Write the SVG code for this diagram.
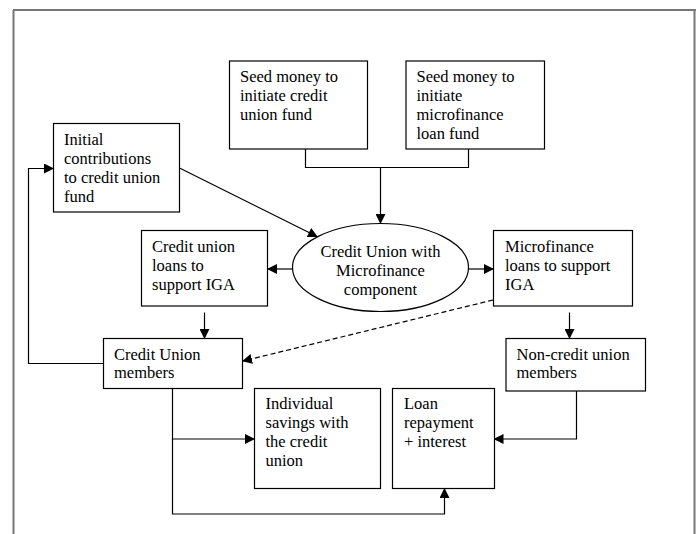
<svg xmlns="http://www.w3.org/2000/svg" width="696" height="534" viewBox="0 0 696 534">
<style>
.box{fill:#fff;stroke:#000;stroke-width:1.2}
.t{font-family:"Liberation Serif","Times New Roman","DejaVu Serif",serif;font-size:16.5px;fill:#000}
.c{fill:none;stroke:#000;stroke-width:1.2}
.d{fill:none;stroke:#000;stroke-width:1.2;stroke-dasharray:5,3}
.frame{fill:none;stroke:#777;stroke-width:2}
</style>
<defs>
<marker id="ah" markerWidth="10" markerHeight="10" refX="9" refY="5" orient="auto" markerUnits="userSpaceOnUse">
<path d="M0,0 L10,5 L0,10 Z" fill="#000"/>
</marker>
</defs>
<rect width="696" height="534" fill="#fff"/>
<g id="frame">
<line class="frame" x1="13" y1="10" x2="696" y2="10"/>
<line class="frame" x1="13.5" y1="10" x2="13.5" y2="534"/>
<line class="frame" x1="694.5" y1="10" x2="694.5" y2="534"/>
</g>
<g id="connectors">
<polyline class="c" points="305.5,149 305.5,167.5 468.5,167.5 468.5,149"/>
<line class="c" x1="380.5" y1="167.5" x2="380.5" y2="223" marker-end="url(#ah)"/>
<line class="c" x1="179.5" y1="168" x2="317" y2="236.5" marker-end="url(#ah)"/>
<line class="c" x1="292.5" y1="269" x2="268" y2="269" marker-end="url(#ah)"/>
<line class="c" x1="468.5" y1="269" x2="493" y2="269" marker-end="url(#ah)"/>
<line class="c" x1="204.5" y1="312.5" x2="204.5" y2="338" marker-end="url(#ah)"/>
<line class="c" x1="569.5" y1="312.5" x2="569.5" y2="338" marker-end="url(#ah)"/>
<line class="d" x1="493" y1="300" x2="243" y2="361" marker-end="url(#ah)"/>
<polyline class="c" points="103.5,363.5 28.5,363.5 28.5,168.5 53,168.5" marker-end="url(#ah)"/>
<polyline class="c" points="576.5,391 576.5,439 494.5,439" marker-end="url(#ah)"/>
<polyline class="c" points="172.5,388.5 172.5,439 254,439" marker-end="url(#ah)"/>
<polyline class="c" points="172.5,439 172.5,514 444.5,514 444.5,489" marker-end="url(#ah)"/>
</g>
<g id="seed-cu">
<rect class="box" x="229.5" y="61" width="138" height="88"/>
<text class="t" x="240" y="81.5">Seed money to</text>
<text class="t" x="240" y="100.5">initiate credit</text>
<text class="t" x="240" y="119.5">union fund</text>
</g>
<g id="seed-mf">
<rect class="box" x="406" y="61" width="138.5" height="88"/>
<text class="t" x="416.5" y="81.5">Seed money to</text>
<text class="t" x="416.5" y="100.5">initiate</text>
<text class="t" x="416.5" y="119.5">microfinance</text>
<text class="t" x="416.5" y="139">loan fund</text>
</g>
<g id="initial">
<rect class="box" x="53.5" y="123.5" width="126" height="88.5"/>
<text class="t" x="64" y="145">Initial</text>
<text class="t" x="64" y="164">contributions</text>
<text class="t" x="64" y="183">to credit union</text>
<text class="t" x="64" y="202">fund</text>
</g>
<g id="cu-mf">
<ellipse class="box" cx="380.5" cy="267.5" rx="88" ry="44"/>
<text class="t" x="380.5" y="257" text-anchor="middle">Credit Union with</text>
<text class="t" x="380.5" y="276" text-anchor="middle">Microfinance</text>
<text class="t" x="380.5" y="295" text-anchor="middle">component</text>
</g>
<g id="cu-loans">
<rect class="box" x="141.5" y="230.5" width="126" height="75.5"/>
<text class="t" x="152" y="251.5">Credit union</text>
<text class="t" x="152" y="270.5">loans to</text>
<text class="t" x="152" y="289.5">support IGA</text>
</g>
<g id="mf-loans">
<rect class="box" x="493.5" y="230.5" width="139" height="75.5"/>
<text class="t" x="505" y="251.5">Microfinance</text>
<text class="t" x="505" y="270.5">loans to support</text>
<text class="t" x="505" y="289.5">IGA</text>
</g>
<g id="cu-members">
<rect class="box" x="103.5" y="338.5" width="139" height="50"/>
<text class="t" x="114" y="359.5">Credit Union</text>
<text class="t" x="114" y="378">members</text>
</g>
<g id="non-cu">
<rect class="box" x="506" y="338.5" width="139.5" height="52.5"/>
<text class="t" x="516.5" y="359.5">Non-credit union</text>
<text class="t" x="516.5" y="378">members</text>
</g>
<g id="savings">
<rect class="box" x="254.5" y="388.5" width="126" height="100"/>
<text class="t" x="265.5" y="408.5">Individual</text>
<text class="t" x="265.5" y="428">savings with</text>
<text class="t" x="265.5" y="447">the credit</text>
<text class="t" x="265.5" y="466">union</text>
</g>
<g id="repayment">
<rect class="box" x="392.5" y="388.5" width="102" height="100"/>
<text class="t" x="404" y="408.5">Loan</text>
<text class="t" x="404" y="428">repayment</text>
<text class="t" x="404" y="447">+ interest</text>
</g>
</svg>
